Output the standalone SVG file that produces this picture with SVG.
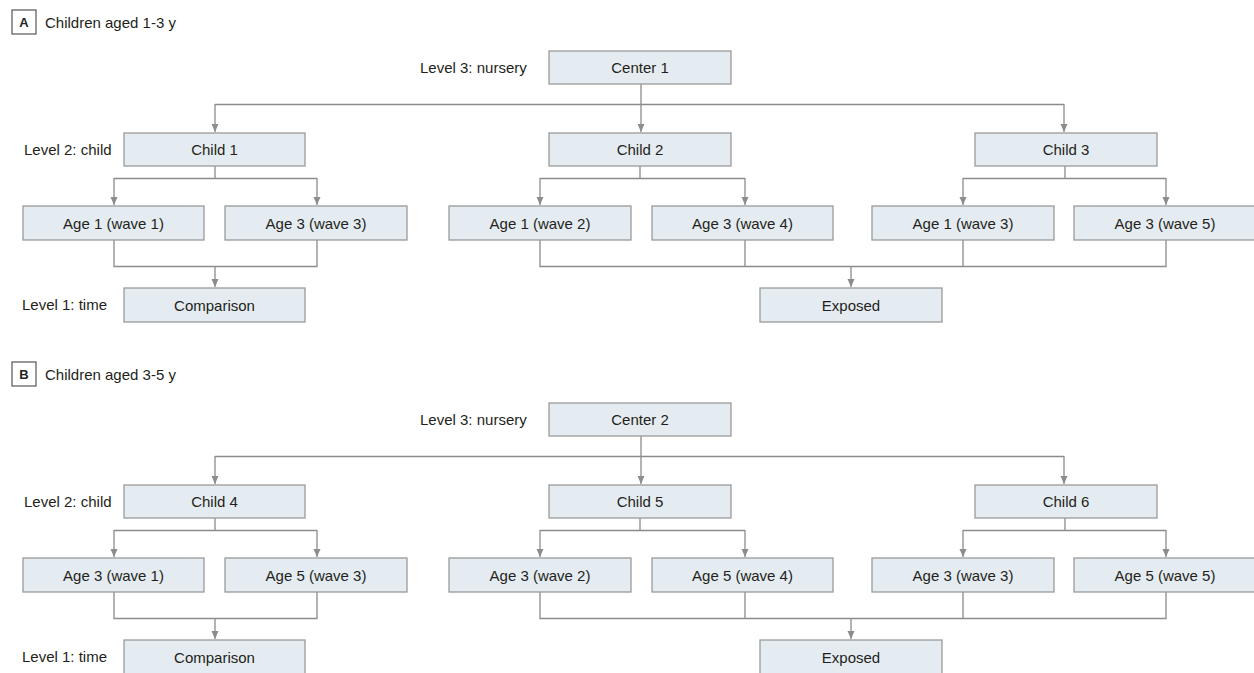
<svg xmlns="http://www.w3.org/2000/svg" width="1254" height="673" viewBox="0 0 1254 673">
<style>
.box{fill:#e5ecf1;stroke:#9a9a9a;stroke-width:1.3}
.t{font-family:"Liberation Sans",Arial,sans-serif;font-size:15px;fill:#231f20}
.c{text-anchor:middle}
.ln{fill:none;stroke:#8c8c8c;stroke-width:1.3}
.lab{fill:#fff;stroke:#555;stroke-width:1.2}
.lt{font-family:"Liberation Sans",Arial,sans-serif;font-size:13px;font-weight:bold;fill:#231f20;text-anchor:middle}
</style>
<defs>
<marker id="ah" viewBox="0 0 8 8" refX="8" refY="4" markerWidth="8" markerHeight="8" markerUnits="userSpaceOnUse" orient="auto">
<path d="M0,0.5 L8,4 L0,7.5 z" fill="#8c8c8c"/>
</marker>
<g id="tree">
<g class="connectors">
<path class="ln" d="M641,84 V132" marker-end="url(#ah)"/>
<path class="ln" d="M215,104.5 H1064"/>
<path class="ln" d="M215,104 V132" marker-end="url(#ah)"/>
<path class="ln" d="M1064,104 V132" marker-end="url(#ah)"/>
<path class="ln" d="M215,166 V178.5 M114,178.5 H317"/>
<path class="ln" d="M114,178 V205" marker-end="url(#ah)"/>
<path class="ln" d="M317,178 V205" marker-end="url(#ah)"/>
<path class="ln" d="M640,166 V178.5 M540,178.5 H745"/>
<path class="ln" d="M540,178 V205" marker-end="url(#ah)"/>
<path class="ln" d="M745,178 V205" marker-end="url(#ah)"/>
<path class="ln" d="M1065,166 V178.5 M963,178.5 H1166"/>
<path class="ln" d="M963,178 V205" marker-end="url(#ah)"/>
<path class="ln" d="M1166,178 V205" marker-end="url(#ah)"/>
<path class="ln" d="M114,240 V266.5 H317 V240"/>
<path class="ln" d="M215,266 V287" marker-end="url(#ah)"/>
<path class="ln" d="M540,240 V266.5 H1166 V240 M745,240 V266 M963,240 V266"/>
<path class="ln" d="M851,266 V287" marker-end="url(#ah)"/>
</g>
</g>
</defs>

<!-- Panel A -->
<g id="panelA-label">
<rect class="lab" x="12" y="10" width="24" height="24"/>
<text class="lt" x="24" y="27">A</text>
<text class="t" x="45" y="28">Children aged 1-3 y</text>
</g>
<g id="levelsA">
<text class="t" x="420" y="73">Level 3: nursery</text>
<text class="t" x="24" y="155">Level 2: child</text>
<text class="t" x="22" y="310">Level 1: time</text>
</g>
<use href="#tree"/>
<g id="center1"><rect class="box" x="549" y="51" width="182" height="33"/><text class="t c" x="640" y="73">Center 1</text></g>
<g id="child1"><rect class="box" x="124" y="133" width="181" height="33"/><text class="t c" x="214.5" y="155">Child 1</text></g>
<g id="child2"><rect class="box" x="549" y="133" width="182" height="33"/><text class="t c" x="640" y="155">Child 2</text></g>
<g id="child3"><rect class="box" x="975" y="133" width="182" height="33"/><text class="t c" x="1066" y="155">Child 3</text></g>
<g id="a1w1"><rect class="box" x="23" y="206" width="181" height="34"/><text class="t c" x="113.5" y="228.5">Age 1 (wave 1)</text></g>
<g id="a3w3"><rect class="box" x="225" y="206" width="182" height="34"/><text class="t c" x="316" y="228.5">Age 3 (wave 3)</text></g>
<g id="a1w2"><rect class="box" x="449" y="206" width="182" height="34"/><text class="t c" x="540" y="228.5">Age 1 (wave 2)</text></g>
<g id="a3w4"><rect class="box" x="652" y="206" width="181" height="34"/><text class="t c" x="742.5" y="228.5">Age 3 (wave 4)</text></g>
<g id="a1w3"><rect class="box" x="872" y="206" width="182" height="34"/><text class="t c" x="963" y="228.5">Age 1 (wave 3)</text></g>
<g id="a3w5"><rect class="box" x="1074" y="206" width="182" height="34"/><text class="t c" x="1165" y="228.5">Age 3 (wave 5)</text></g>
<g id="comparisonA"><rect class="box" x="124" y="288" width="181" height="34"/><text class="t c" x="214.5" y="310.5">Comparison</text></g>
<g id="exposedA"><rect class="box" x="760" y="288" width="182" height="34"/><text class="t c" x="851" y="310.5">Exposed</text></g>

<!-- Panel B -->
<g id="panelB-label">
<rect class="lab" x="12" y="362" width="24" height="24"/>
<text class="lt" x="24" y="379">B</text>
<text class="t" x="45" y="380">Children aged 3-5 y</text>
</g>
<g id="levelsB">
<text class="t" x="420" y="425">Level 3: nursery</text>
<text class="t" x="24" y="507">Level 2: child</text>
<text class="t" x="22" y="662">Level 1: time</text>
</g>
<use href="#tree" transform="translate(0,352)"/>
<g id="center2"><rect class="box" x="549" y="403" width="182" height="33"/><text class="t c" x="640" y="425">Center 2</text></g>
<g id="child4"><rect class="box" x="124" y="485" width="181" height="33"/><text class="t c" x="214.5" y="507">Child 4</text></g>
<g id="child5"><rect class="box" x="549" y="485" width="182" height="33"/><text class="t c" x="640" y="507">Child 5</text></g>
<g id="child6"><rect class="box" x="975" y="485" width="182" height="33"/><text class="t c" x="1066" y="507">Child 6</text></g>
<g id="a3w1"><rect class="box" x="23" y="558" width="181" height="34"/><text class="t c" x="113.5" y="580.5">Age 3 (wave 1)</text></g>
<g id="a5w3"><rect class="box" x="225" y="558" width="182" height="34"/><text class="t c" x="316" y="580.5">Age 5 (wave 3)</text></g>
<g id="a3w2"><rect class="box" x="449" y="558" width="182" height="34"/><text class="t c" x="540" y="580.5">Age 3 (wave 2)</text></g>
<g id="a5w4"><rect class="box" x="652" y="558" width="181" height="34"/><text class="t c" x="742.5" y="580.5">Age 5 (wave 4)</text></g>
<g id="a3w3b"><rect class="box" x="872" y="558" width="182" height="34"/><text class="t c" x="963" y="580.5">Age 3 (wave 3)</text></g>
<g id="a5w5"><rect class="box" x="1074" y="558" width="182" height="34"/><text class="t c" x="1165" y="580.5">Age 5 (wave 5)</text></g>
<g id="comparisonB"><rect class="box" x="124" y="640" width="181" height="34"/><text class="t c" x="214.5" y="662.5">Comparison</text></g>
<g id="exposedB"><rect class="box" x="760" y="640" width="182" height="34"/><text class="t c" x="851" y="662.5">Exposed</text></g>
</svg>
